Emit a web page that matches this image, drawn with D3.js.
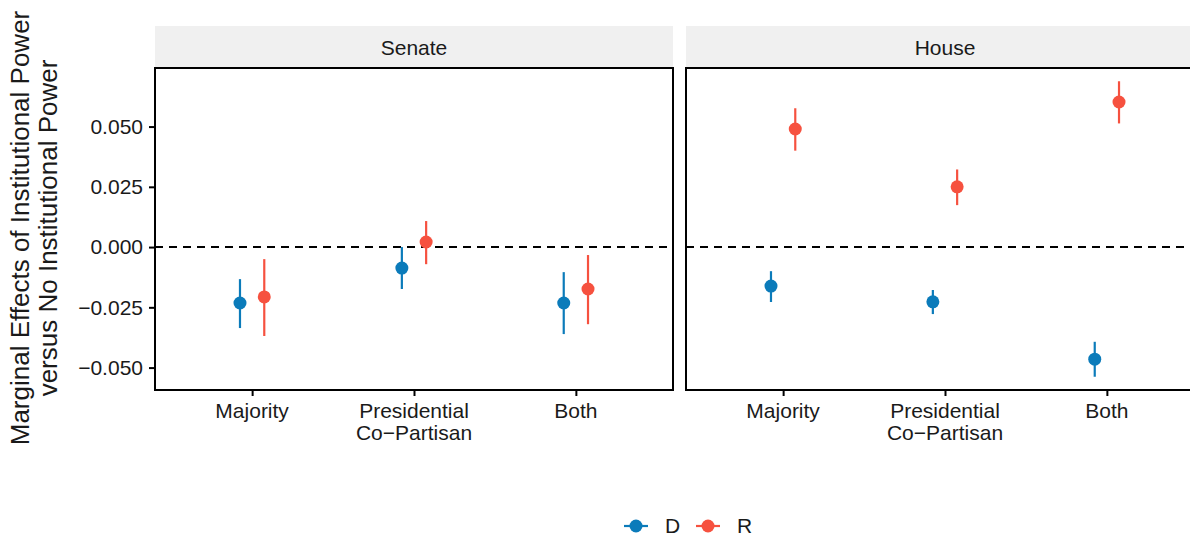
<!DOCTYPE html>
<html>
<head>
<meta charset="utf-8">
<script src="https://cdn.jsdelivr.net/npm/d3@7"></script>
<style>
  body { margin: 0; background: #fff; }
  text { font-family: "Liberation Sans", Arial, sans-serif; }
</style>
</head>
<body>
<div id="chart"></div>
<script>
// categories and series
const chambers = ['Senate', 'House']
const categories = ['Majority', 'Presidential|Co\u2212Partisan', 'Both']
const parties = ['D', 'R']
const partyColors = ['#0B7BBA', '#F6513F']

// [estimate, lower, upper] per category
const senateD = [[-0.0232, -0.0336, -0.0133], [-0.0087, -0.0174, 0.0000], [-0.0232, -0.0361, -0.0104]]
const senateR = [[-0.0207, -0.0369, -0.0050], [0.0021, -0.0071, 0.0108], [-0.0174, -0.0320, -0.0033]]
const houseD  = [[-0.0162, -0.0228, -0.0100], [-0.0227, -0.0278, -0.0178], [-0.0465, -0.0538, -0.0393]]
const houseR  = [[0.0490, 0.0400, 0.0576], [0.0250, 0.0174, 0.0322], [0.0602, 0.0513, 0.0688]]

const yTicks = [-0.050, -0.025, 0.000, 0.025, 0.050]
const yTitle = ['Marginal Effects of Institutional Power', 'versus No Institutional Power']

const W = 1190, H = 538
const fs = '21px'
const svg = d3.select('#chart').append('svg').attr('width', W).attr('height', H)

const panelTop = 68, panelBottom = 390, stripTop = 26
const panels = [
  { name: chambers[0], x0: 155, x1: 673, series: [senateD, senateR] },
  { name: chambers[1], x0: 686, x1: 1204, series: [houseD, houseR] }
]

const y = d3.scaleLinear().domain([-0.0593, 0.0743]).range([panelBottom, panelTop])

panels.forEach((p, pi) => {
  const g = svg.append('g')
  const x = d3.scalePoint().domain(categories).range([p.x0, p.x1]).padding(0.6)
  const dodge = x.step() * 0.075

  // strip
  g.append('rect').attr('x', p.x0).attr('y', stripTop)
    .attr('width', p.x1 - p.x0).attr('height', panelTop - stripTop).attr('fill', '#F0F0F0')
  g.append('text').attr('x', (p.x0 + p.x1) / 2).attr('y', (stripTop + panelTop) / 2 + 7.5)
    .attr('text-anchor', 'middle').style('font-size', fs).attr('fill', '#1a1a1a').text(p.name)

  // zero line
  g.append('line').attr('x1', p.x0).attr('x2', p.x1).attr('y1', y(0)).attr('y2', y(0))
    .attr('stroke', '#000').attr('stroke-width', 2).attr('stroke-dasharray', '8,6')

  // error bars + points
  p.series.forEach((s, si) => {
    const off = (si === 0 ? -1 : 1) * dodge
    s.forEach((d, ci) => {
      const cx = x(categories[ci]) + off
      g.append('line').attr('x1', cx).attr('x2', cx).attr('y1', y(d[1])).attr('y2', y(d[2]))
        .attr('stroke', partyColors[si]).attr('stroke-width', 2.2)
      g.append('circle').attr('cx', cx).attr('cy', y(d[0])).attr('r', 6.5).attr('fill', partyColors[si])
    })
  })

  // border
  g.append('rect').attr('x', p.x0).attr('y', panelTop).attr('width', p.x1 - p.x0).attr('height', panelBottom - panelTop)
    .attr('fill', 'none').attr('stroke', '#000').attr('stroke-width', 2)

  // x axis
  const xa = g.append('g').attr('transform', `translate(0,${panelBottom})`)
    .call(d3.axisBottom(x).tickSize(6).tickFormat(''))
  xa.select('.domain').remove()
  xa.selectAll('.tick line').attr('stroke', '#000').attr('stroke-width', 2)
  categories.forEach(c => {
    const t = g.append('text').attr('x', x(c)).attr('y', panelBottom + 28)
      .attr('text-anchor', 'middle').style('font-size', fs).attr('fill', '#1a1a1a')
    c.split('|').forEach((line, li) => {
      t.append('tspan').attr('x', x(c)).attr('dy', li === 0 ? 0 : 22).text(line)
    })
  })

  // y axis on first panel only
  if (pi === 0) {
    const ya = g.append('g').attr('transform', `translate(${p.x0},0)`)
      .call(d3.axisLeft(y).tickValues(yTicks).tickSize(6).tickFormat(d3.format('.3f')))
    ya.select('.domain').remove()
    ya.selectAll('.tick line').attr('stroke', '#000').attr('stroke-width', 2)
    ya.selectAll('.tick text').style('font-size', fs).attr('fill', '#1a1a1a').attr('x', -12)
      .style('font-family', '"Liberation Sans", Arial, sans-serif')
  }
})

// y title
const yt = svg.append('text').attr('transform', `translate(29,${(panelTop + panelBottom) / 2 - 1}) rotate(-90)`)
  .attr('text-anchor', 'middle').style('font-size', '26px').attr('fill', '#1a1a1a')
yTitle.forEach((line, i) => {
  yt.append('tspan').attr('x', 0).attr('dy', i === 0 ? 0 : 28).text(line)
})

// legend
const leg = svg.append('g').attr('transform', 'translate(624,526)')
parties.forEach((pt, i) => {
  const lx = i * 72
  leg.append('line').attr('x1', lx).attr('x2', lx + 24).attr('y1', 0).attr('y2', 0)
    .attr('stroke', partyColors[i]).attr('stroke-width', 2.2)
  leg.append('circle').attr('cx', lx + 12).attr('cy', 0).attr('r', 6.5).attr('fill', partyColors[i])
  leg.append('text').attr('x', lx + 41).attr('y', 7).style('font-size', fs).attr('fill', '#1a1a1a').text(pt)
})
</script>
</body>
</html>
